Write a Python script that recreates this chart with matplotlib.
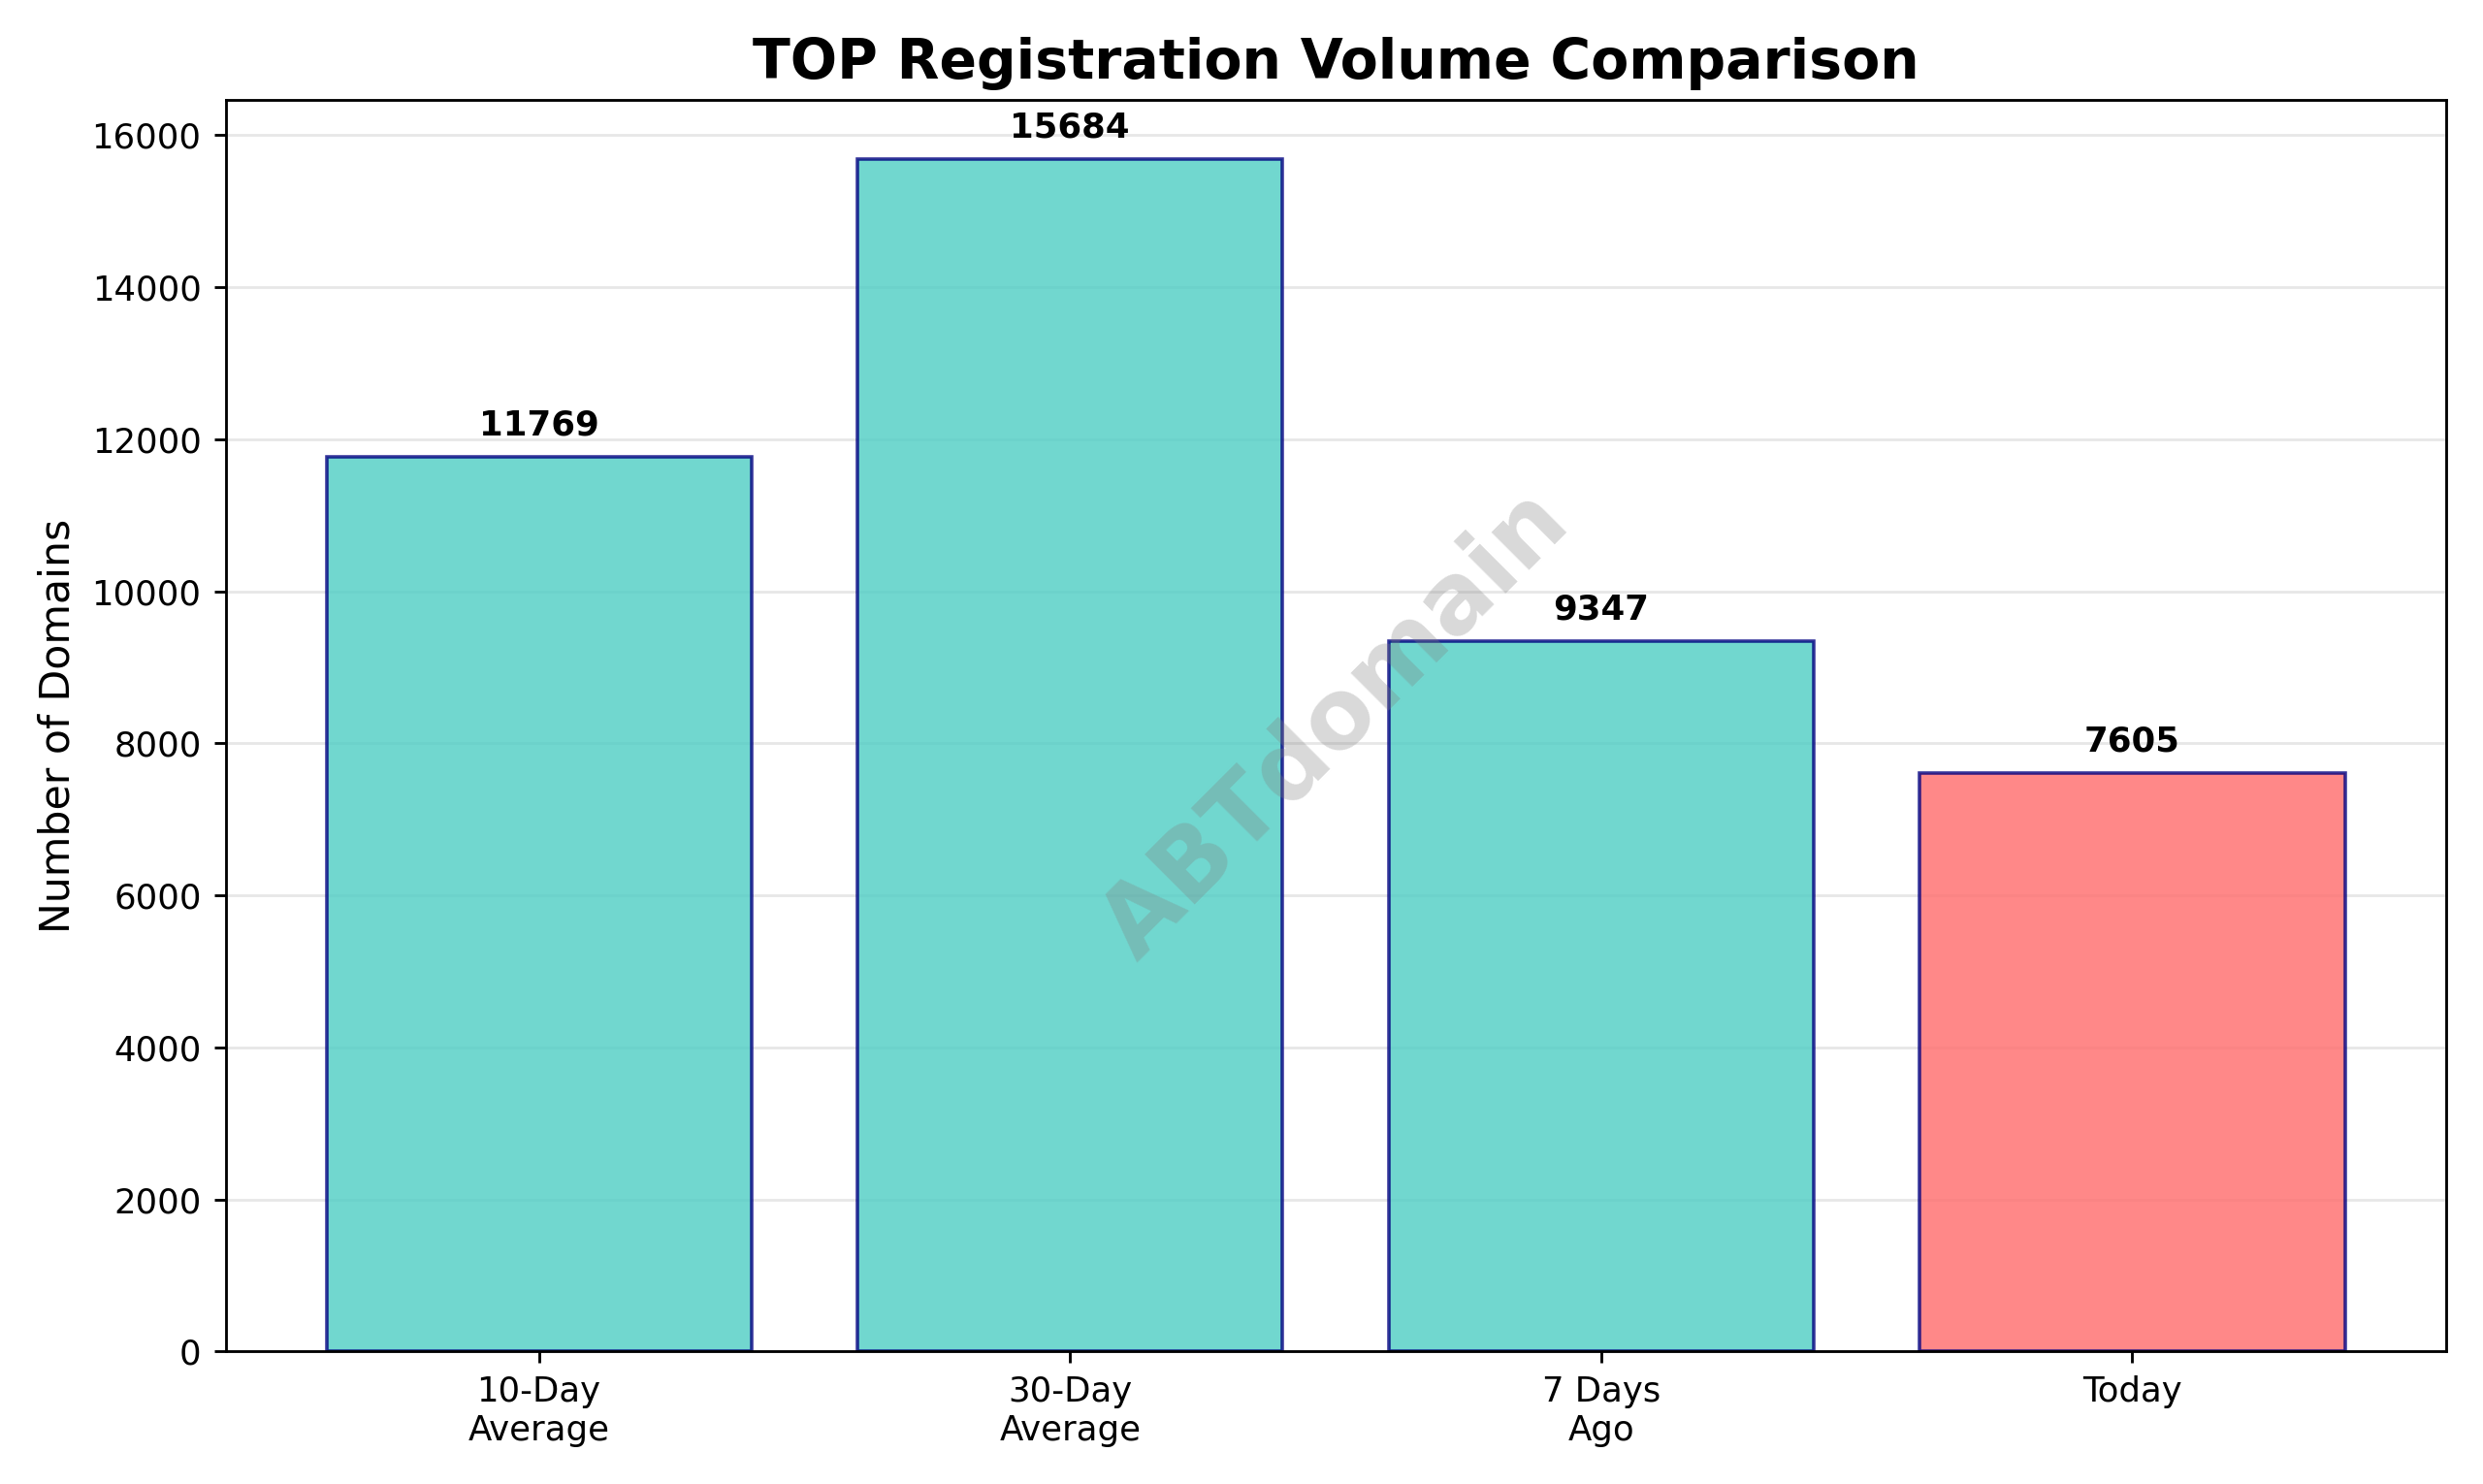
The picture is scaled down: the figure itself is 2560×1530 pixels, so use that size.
import matplotlib
matplotlib.use("Agg")
import matplotlib.pyplot as plt

categories = ["10-Day\nAverage", "30-Day\nAverage", "7 Days\nAgo", "Today"]
values = [11769, 15684, 9347, 7605]
colors = ["#4ECDC4", "#4ECDC4", "#4ECDC4", "#FF6B6B"]

fig, ax = plt.subplots(figsize=(10, 5.977), dpi=256)
bars = ax.bar(categories, values, color=colors, alpha=0.8, edgecolor="navy", linewidth=1)
for b, v in zip(bars, values):
    ax.text(b.get_x() + b.get_width() / 2, v + 200, str(v), ha="center", va="bottom",
            fontweight="bold", fontsize=10)
ax.set_title("TOP Registration Volume Comparison", fontsize=16, fontweight="bold")
ax.set_ylabel("Number of Domains", fontsize=12)
ax.grid(axis="y", alpha=0.3)
ax.set_axisbelow(True)
ax.text(0.5, 0.5, "ABTdomain", transform=ax.transAxes, fontsize=28, color="gray",
        alpha=0.3, rotation=45, ha="center", va="center", fontweight="bold")
fig.tight_layout()
fig.savefig("out.png")
